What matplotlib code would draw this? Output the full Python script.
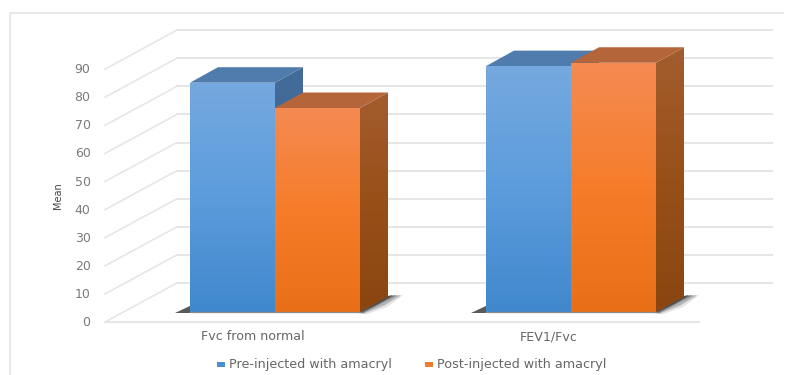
import numpy as np
import matplotlib
matplotlib.use('Agg')
import matplotlib.pyplot as plt
from matplotlib.colors import LinearSegmentedColormap
from matplotlib.patches import Polygon

categories = ['Fvc from normal', 'FEV1/Fvc']
series_names = ['Pre-injected with amacryl', 'Post-injected with amacryl']
pre_values = [81.6, 87.5]
post_values = [72.6, 88.7]
ticks = [0, 10, 20, 30, 40, 50, 60, 70, 80, 90]
ylabel = 'Mean'

W, H = 793, 375
x_scale = 296.0    # px per category
y_scale = 2.81     # px per value unit
x0_px = 275.0
y0_px = 312.0

bar_w = 85.0 / x_scale
# 3d look: shift per unit of depth
dx = 28.0 / x_scale
dy = 15.5 / y_scale

plt.rcParams['font.family'] = ['DejaVu Sans']
fig = plt.figure(figsize=(W / 100, H / 100), dpi=100)
ax = fig.add_axes([0, 0, 1, 1])
ax.set_axis_off()


def px_x(p):
    return (p - x0_px) / x_scale


def px_y(p):
    return (y0_px - p) / y_scale


grid_c = '#e6e6e6'
# wall and floor grid: front edge sits in front of the bars, back edge behind them
front_x, back_x, right_x = px_x(105), px_x(177), px_x(772)
floor_front = px_y(322)
floor_back = px_y(283)
for t in ticks:
    ax.plot([front_x, back_x], [floor_front + t, floor_back + t], color=grid_c, lw=1.2, zorder=1)
    ax.plot([back_x, right_x], [floor_back + t, floor_back + t], color=grid_c, lw=1.4, zorder=1)
    ax.text(px_x(90.5), floor_front + t - 0.2, str(t), ha='right', va='center', fontsize=9, color='#7a7a7a')
ax.plot([front_x, px_x(699)], [floor_front, floor_front], color=grid_c, lw=1.6, zorder=1)

# chart frame
ax.plot([px_x(10), px_x(10), px_x(783)], [px_y(375), px_y(13), px_y(13)], color='#e8e8e8', lw=1.5, zorder=1)

ax.text(px_x(58), px_y(196), ylabel, rotation=90, ha='center', va='center', fontsize=7, color='#444444')


def gradient_face(verts, colors, z):
    cmap = LinearSegmentedColormap.from_list('face', colors)
    xs = [v[0] for v in verts]
    ys = [v[1] for v in verts]
    im = ax.imshow(np.linspace(0, 1, 256).reshape(-1, 1), cmap=cmap, aspect='auto',
                   extent=[min(xs), max(xs), min(ys), max(ys)], zorder=z)
    clip = Polygon(verts, closed=True, transform=ax.transData, fc='none', ec='none')
    ax.add_patch(clip)
    im.set_clip_path(clip)


def draw_bar(x, v, front, side, top, z):
    # front face, side face, lid
    l, r = x, x + bar_w
    gradient_face([(l, 0), (r, 0), (r, v), (l, v)], front, z + 0.2)
    gradient_face([(r, 0), (r + dx, dy), (r + dx, v + dy), (r, v)], side, z + 0.1)
    ax.add_patch(Polygon([(l, v), (r, v), (r + dx, v + dy), (l + dx, v + dy)], closed=True,
                         fc=top, ec='none', zorder=z + 0.1))


def draw_shadow(x, z):
    # layered floor shadow, darkest right against the bars
    l, r = x - bar_w, x + bar_w
    px, py = 1 / x_scale, 1 / y_scale
    ax.add_patch(Polygon([(l - 15 * px, -0.5 * py), (l + 2 * px, -0.5 * py), (l + 2 * px, 7 * py)], closed=True,
                         fc='#5a5a5a', ec='none', zorder=z))
    layers = [('#e4e4e4', 43, 27, 5, 6, 6, -2.5),
              ('#b4b4b4', 41, 25, 7, 5, 4, -1.5),
              ('#7c7c7c', 37, 22, 9, 3, 3, -1),
              ('#4c4c4c', 33, 18, 8, 2, 2, 0)]
    for fc, tip, mx, my, _, lx, ly in layers:
        ax.add_patch(Polygon([(r - 2 * px, -1 * py), (r + 28 * px, 16 * py), (r + tip * px, 16.8 * py),
                              (r + mx * px, my * py), (r + lx * px, ly * py)], closed=True,
                             fc=fc, ec='none', zorder=z))


blue_face = ['#75a9df', '#5c9cdc', '#4088cd']
blue_side = ['#436c9b', '#3a6391']
orange_face = ['#f48b52', '#f67c2a', '#e96f17']
orange_side = ['#a35c2e', '#985018', '#8a4510']

for i in range(len(categories)):
    draw_shadow(i, 2)
    draw_bar(i - bar_w, pre_values[i], blue_face, blue_side, '#4f7cac', 3)
    draw_bar(i, post_values[i], orange_face, orange_side, '#b5653a', 4)
    ax.plot([i - bar_w, i + bar_w], [-0.1, -0.1], color='#8a8a8a', lw=0.9, zorder=5)
    ax.text(i - 22.5 / x_scale, px_y(337), categories[i], ha='center', va='center', fontsize=9.1, color='#666666')

# legend drawn by hand, centred under the plot
for name, c, sx, tx in zip(series_names, ['#4a8fd2', '#ed7d31'], [217, 425], [229, 437]):
    ax.add_patch(Polygon([(px_x(sx), px_y(362)), (px_x(sx + 8), px_y(362)),
                          (px_x(sx + 8), px_y(367)), (px_x(sx), px_y(367))], closed=True, fc=c, ec='none'))
    ax.text(px_x(tx), px_y(364.5), name, ha='left', va='center', fontsize=9.2, color='#666666')

ax.set_xlim(px_x(0), px_x(W))
ax.set_ylim(px_y(H), px_y(0))
fig.savefig('out.png', dpi=100)
